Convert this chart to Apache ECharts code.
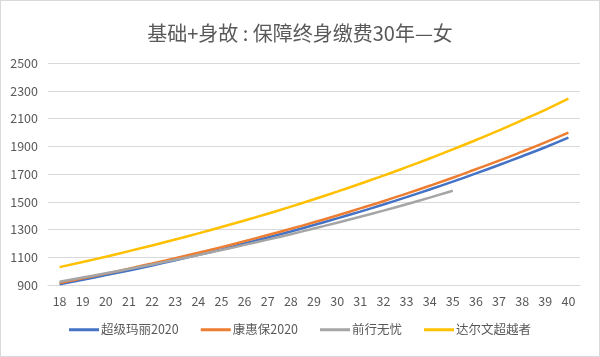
<!DOCTYPE html>
<html>
<head>
<meta charset="utf-8">
<script src="https://cdn.jsdelivr.net/npm/echarts@6/dist/echarts.min.js"></script>
<style>
html,body{margin:0;padding:0;background:#fff;}
#c{width:600px;height:357px;box-sizing:border-box;border:1px solid #d9d9d9;}
</style>
</head>
<body>
<div id="c"></div>
<script>
const titleText = '基础+身故 : 保障终身缴费30年—女';
const ages = ['18','19','20','21','22','23','24','25','26','27','28','29','30','31','32','33','34','35','36','37','38','39','40'];
const seriesNames = ['超级玛丽2020','康惠保2020','前行无忧','达尔文超越者'];
const chaojimali = [905,937,971,1005,1041,1079,1117,1157,1199,1242,1286,1332,1380,1429,1480,1533,1588,1645,1704,1765,1828,1893,1962];
const kanghuibao = [915,948,982,1018,1055,1093,1132,1173,1216,1260,1305,1352,1401,1452,1504,1559,1615,1673,1734,1796,1861,1928,1998];
const qianxingwuyou = [924,954,984,1016,1048,1082,1116,1152,1189,1227,1266,1307,1349,1392,1436,1482,1530,1579];
const daerwen = [1029,1066,1104,1144,1185,1228,1272,1318,1365,1414,1465,1518,1573,1630,1688,1749,1812,1877,1945,2015,2088,2163,2243];
const colors = ['#4472C4','#ED7D31','#A5A5A5','#FFC000'];
const yMin = 900, yMax = 2500, yStep = 200;

const chart = echarts.init(document.getElementById('c'));
const font = '"Noto Sans CJK SC", "Liberation Sans", sans-serif';
const dataSets = [chaojimali, kanghuibao, qianxingwuyou, daerwen];
chart.setOption({
  animation: false,
  color: colors,
  title: {
    text: titleText, left: 'center', top: 17,
    textStyle: {fontSize: 20, fontWeight: 'normal', color: '#595959', fontFamily: font}
  },
  grid: {left: 47, right: 19, top: 62, bottom: 71, containLabel: false},
  legend: {
    bottom: 15, left: 'center', itemWidth: 30, itemHeight: 3, itemGap: 22,
    icon: 'rect',
    textStyle: {fontSize: 12.5, color: '#595959', fontFamily: font, padding: [0,0,0,-3]},
    data: seriesNames
  },
  xAxis: {
    type: 'category', data: ages, boundaryGap: true,
    axisLine: {lineStyle: {color: '#d9d9d9', width: 1}},
    axisTick: {show: false},
    axisLabel: {color: '#595959', fontSize: 12.5, fontFamily: font, margin: 10, interval: 0}
  },
  yAxis: {
    type: 'value', min: yMin, max: yMax, interval: yStep,
    axisLine: {show: false}, axisTick: {show: false},
    splitLine: {lineStyle: {color: '#d9d9d9', width: 1}},
    axisLabel: {color: '#595959', fontSize: 12.5, fontFamily: font, margin: 10, formatter: v => String(v)}
  },
  series: seriesNames.map((n, i) => ({
    name: n, type: 'line', data: dataSets[i], smooth: true, symbol: 'none',
    lineStyle: {width: 2.5, color: colors[i]}, itemStyle: {color: colors[i]}
  }))
});
</script>
</body>
</html>
